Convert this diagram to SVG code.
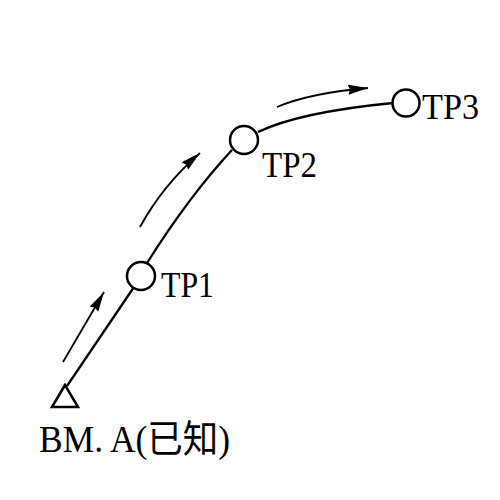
<svg xmlns="http://www.w3.org/2000/svg" width="500" height="500" viewBox="0 0 500 500">
<style>
.ln{fill:none;stroke:#000;stroke-width:2.3}
.ar{fill:none;stroke:#000;stroke-width:1.8}
.pt{fill:#fff;stroke:#000;stroke-width:2.5}
.lb{font-family:"Liberation Serif","Noto Sans CJK SC",serif;fill:#000}
</style>
<defs>
<marker id="ah" markerUnits="userSpaceOnUse" markerWidth="22" markerHeight="12" refX="20" refY="5" orient="auto">
<path d="M0,0 L20,5 L0,10 L2,5 Z" fill="#000"/>
</marker>
</defs>
<g id="connectors">
<path class="ln" d="M67,386 L134,287"/>
<path class="ln" d="M147,263 Q190,195 232,150"/>
<path class="ln" d="M258,132 Q300,112 393,103"/>
<path class="ar" d="M63,362 L104,292" marker-end="url(#ah)"/>
<path class="ar" d="M140,227 Q163,185 200,153" marker-end="url(#ah)"/>
<path class="ar" d="M277,107 Q310,93 368,88" marker-end="url(#ah)"/>
</g>
<g id="bm">
<polygon class="pt" points="65,385 52,407 78,407"/>
<text class="lb" x="39" y="452" font-size="38" textLength="191" lengthAdjust="spacingAndGlyphs">BM. A(已知)</text>
</g>
<g id="tp1">
<circle class="pt" cx="141" cy="276" r="14"/>
<text class="lb" x="161" y="297" font-size="35" textLength="53" lengthAdjust="spacingAndGlyphs">TP1</text>
</g>
<g id="tp2">
<circle class="pt" cx="244" cy="140" r="14"/>
<text class="lb" x="262" y="177" font-size="35" textLength="55" lengthAdjust="spacingAndGlyphs">TP2</text>
</g>
<g id="tp3">
<circle class="pt" cx="406" cy="103" r="13.5"/>
<text class="lb" x="422" y="119" font-size="35" textLength="57" lengthAdjust="spacingAndGlyphs">TP3</text>
</g>
</svg>
